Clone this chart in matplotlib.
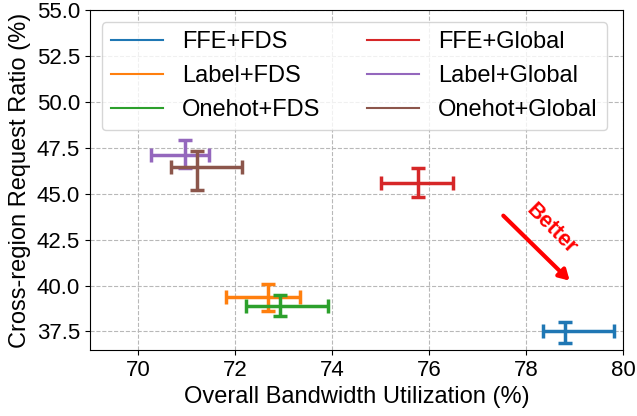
import matplotlib
matplotlib.use("Agg")
import matplotlib.pyplot as plt
from matplotlib.lines import Line2D
import numpy as np

plt.rcParams['font.family'] = ['Liberation Sans', 'DejaVu Sans']

labels = ["FFE+FDS", "Label+FDS", "Onehot+FDS", "FFE+Global", "Label+Global", "Onehot+Global"]
colors = ["#1f77b4", "#ff7f0e", "#2ca02c", "#d62728", "#9467bd", "#8c564b"]

bw_mean = [78.81, 72.67, 72.92, 75.78, 70.96, 71.22]
bw_low = [78.34, 71.80, 72.22, 75.00, 70.27, 70.68]
bw_high = [79.82, 73.33, 73.91, 76.50, 71.46, 72.14]

cr_mean = [37.55, 39.40, 38.91, 45.60, 47.12, 46.47]
cr_low = [36.90, 38.59, 38.37, 44.84, 46.41, 45.22]
cr_high = [37.99, 40.11, 39.46, 46.41, 47.93, 47.34]

xticks = [70, 72, 74, 76, 78, 80]
yticks = [37.5, 40.0, 42.5, 45.0, 47.5, 50.0, 52.5, 55.0]

fig = plt.figure(figsize=(6.37, 4.16), dpi=100)
ax = fig.add_axes([0.141, 0.159, 0.837, 0.817])

for i in range(len(labels)):
    xe = [[bw_mean[i] - bw_low[i]], [bw_high[i] - bw_mean[i]]]
    ye = [[cr_mean[i] - cr_low[i]], [cr_high[i] - cr_mean[i]]]
    ax.errorbar([bw_mean[i]], [cr_mean[i]], xerr=xe, yerr=ye, fmt='none',
                ecolor=colors[i], elinewidth=2.5, capsize=5, capthick=2.5, zorder=3)

ax.set_xlim(69, 80)
ax.set_ylim(36.5, 55)
ax.set_xticks(xticks)
ax.set_yticks(yticks)
ax.set_yticklabels([f"{v:.1f}" for v in yticks])
ax.tick_params(labelsize=16)
ax.grid(True, linestyle='--', color='#b8b8b8', linewidth=0.8)
ax.set_axisbelow(True)
ax.set_xlabel("Overall Bandwidth Utilization (%)", fontsize=17)
ax.set_ylabel("Cross-region Request Ratio (%)", fontsize=17)

handles = [Line2D([0], [0], color=c, lw=1.5) for c in colors]
ax.legend(handles, labels, ncol=2, fontsize=17, loc='upper left',
          columnspacing=2.0, handlelength=2.2, handletextpad=0.8,
          labelspacing=0.5)

ax.annotate("", xy=(78.94, 40.16), xytext=(77.49, 43.91),
            arrowprops=dict(arrowstyle="-|>,head_width=0.35,head_length=0.6",
                            color='red', lw=3))
ax.text(78.52, 43.1, "Better", color='red', fontsize=15.5, fontweight='bold',
        rotation=-45, ha='center', va='center')

fig.savefig("out.png", dpi=100)
